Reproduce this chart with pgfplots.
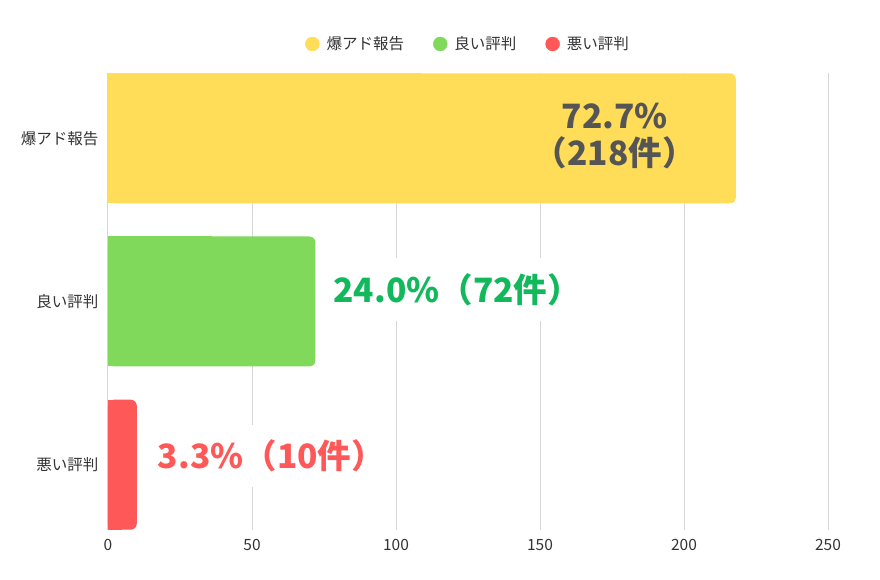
\documentclass[border=0pt]{standalone}
\usepackage{fontspec}
\setmainfont{Noto Sans CJK JP}
\usepackage{pgfplots}
\pgfplotsset{compat=1.18}
\usepackage{pgfplotstable}

\definecolor{cYel}{HTML}{FFDD58}
\definecolor{cGrn}{HTML}{80D95A}
\definecolor{cRed}{HTML}{FF5858}
\definecolor{tGrn}{HTML}{12B85C}
\definecolor{tGry}{HTML}{555555}
\definecolor{gridc}{HTML}{D6D6D6}

% one table per category (y position, count)
\pgfplotstableread{
y v
2 218
}\bakuado
\pgfplotstableread{
y v
1 72
}\yoi
\pgfplotstableread{
y v
0 10
}\warui

\newcommand{\tickfont}{\fontsize{15.5}{18}\selectfont}
\newcommand{\bigfont}{\fontsize{33.5}{37}\selectfont\bfseries}

\begin{document}
\begin{tikzpicture}
\begin{axis}[
    scale only axis,
    width=720pt, height=457pt,
    xmin=0, xmax=250,
    ymin=-0.4, ymax=2.4,
    xtick={0,50,100,150,200,250},
    ytick={0,1,2},
    yticklabels={悪い評判,良い評判,爆アド報告},
    axis line style={draw=none},
    major tick length=0pt,
    xmajorgrids,
    grid style={gridc, line width=1pt},
    ticklabel style={font=\tickfont, text=black!80},
    xticklabel style={yshift=-6pt},
    yticklabel style={xshift=-6pt},
    /pgf/number format/assume math mode=true,
    xbar, bar shift=0pt, bar width=130pt,
    legend columns=3,
    legend style={
        at={(axis description cs:0.5,1)}, anchor=center, yshift=29pt,
        draw=none, fill=none, font=\tickfont, text=black!80,
        /tikz/every even column/.append style={column sep=27pt},
    },
]
\addlegendimage{legend image code/.code={\fill[cYel] (0pt,0pt) circle (7pt); \path (12pt,0pt);}}
\addlegendentry{爆アド報告}
\addlegendimage{legend image code/.code={\fill[cGrn] (0pt,0pt) circle (7pt); \path (12pt,0pt);}}
\addlegendentry{良い評判}
\addlegendimage{legend image code/.code={\fill[cRed] (0pt,0pt) circle (7pt); \path (12pt,0pt);}}
\addlegendentry{悪い評判}

% bars: rounded bar, then a square half bar to keep the left end square
\addplot[fill=cYel, draw=none, rounded corners=6pt, forget plot] table[x=v, y=y] {\bakuado};
\addplot[fill=cYel, draw=none, forget plot] table[x expr=\thisrow{v}/2, y=y] {\bakuado};
\addplot[fill=cGrn, draw=none, rounded corners=6pt, forget plot] table[x=v, y=y] {\yoi};
\addplot[fill=cGrn, draw=none, forget plot] table[x expr=\thisrow{v}/2, y=y] {\yoi};
\addplot[fill=cRed, draw=none, rounded corners=6pt, forget plot] table[x=v, y=y] {\warui};
\addplot[fill=cRed, draw=none, forget plot] table[x expr=\thisrow{v}/2, y=y] {\warui};

% labels beside the short bars, on white boxes that cut the grid
\addplot[draw=none, fill=none, forget plot,
    nodes near coords={\hspace{10pt}24.0\%（72件）\hspace{30pt}},
    every node near coord/.style={anchor=west, xshift=8pt, yshift=12pt,
        fill=white, inner xsep=0pt, inner ysep=15pt, text=tGrn, font=\bigfont}]
    table[x=v, y=y] {\yoi};
\addplot[draw=none, fill=none, forget plot,
    nodes near coords={\hspace{13pt}3.3\%（10件）\hspace{30pt}},
    every node near coord/.style={anchor=west, xshift=8pt, yshift=9pt,
        fill=white, inner xsep=0pt, inner ysep=15pt, text=cRed, font=\bigfont}]
    table[x=v, y=y] {\warui};

% label inside the long bar
\addplot[draw=none, fill=none, forget plot,
    nodes near coords={72.7\%\\（218件）},
    every node near coord/.style={anchor=center, xshift=-121pt, yshift=2pt,
        align=center, text=tGry, font=\bigfont}]
    table[x=v, y=y] {\bakuado};
\end{axis}
\path ([xshift=-108pt, yshift=-50pt]current axis.south west)
    rectangle ([xshift=52pt, yshift=73pt]current axis.north east);
\end{tikzpicture}
\end{document}
